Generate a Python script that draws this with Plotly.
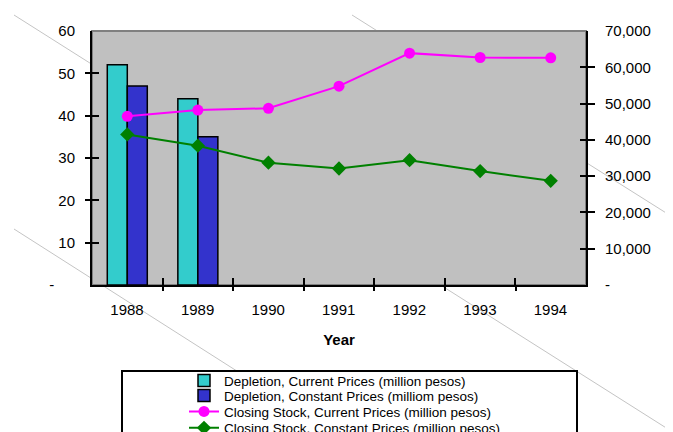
import plotly.graph_objects as go

# ---------------- data ----------------
years = ["1988", "1989", "1990", "1991", "1992", "1993", "1994"]
depletion_current = [52, 44, None, None, None, None, None]      # million pesos
depletion_constant = [47, 35, None, None, None, None, None]     # million pesos
closing_current = [46500, 48200, 48700, 54800, 63900, 62700, 62600]
closing_constant = [41500, 38400, 33700, 32100, 34400, 31400, 28700]

left_tickvals = [0, 10, 20, 30, 40, 50, 60]
left_ticktext = ["-\u00a0\u00a0\u00a0\u00a0\u00a0", "10", "20", "30", "40", "50", "60"]
right_tickvals = [0, 10000, 20000, 30000, 40000, 50000, 60000, 70000]
right_ticktext = ["-", "10,000", "20,000", "30,000", "40,000", "50,000", "60,000", "70,000"]

names = [
    "Depletion, Current Prices (million pesos)",
    "Depletion, Constant Prices (milliom pesos)",
    "Closing Stock, Current Prices (million pesos)",
    "Closing Stock, Constant Prices (million pesos)",
]

# ---------------- layout geometry ----------------
# page pixels of the reference; the page body adds an 8px offset
OFF = 8
W, H = 673 - OFF, 440          # figure size (bottom part falls outside the window, as in the reference)
PL, PR, PT, PB = 92 - OFF, 586 - OFF, 31 - OFF, 285 - OFF


def px_x(x):
    return (x - OFF - PL) / (PR - PL)


def px_y(y):
    return (PB - (y - OFF)) / (PB - PT)


FONT = "Liberation Sans, Arial, sans-serif"
xpos = list(range(len(years)))
boundaries = [i - 0.5 for i in range(len(years) + 1)]

fig = go.Figure()
fig.add_trace(go.Bar(
    x=xpos, y=depletion_current, name=names[0],
    marker=dict(color="#33CCCC", line=dict(color="black", width=1.5)),
    legend="legend",
))
fig.add_trace(go.Bar(
    x=xpos, y=depletion_constant, name=names[1],
    marker=dict(color="#3333CC", line=dict(color="black", width=1.5)),
    legend="legend2",
))
fig.add_trace(go.Scatter(
    x=xpos, y=closing_current, name=names[2], yaxis="y2",
    mode="lines+markers",
    line=dict(color="#FF00FF", width=2),
    marker=dict(symbol="circle", size=11, color="#FF00FF"),
    legend="legend3",
))
fig.add_trace(go.Scatter(
    x=xpos, y=closing_constant, name=names[3], yaxis="y2",
    mode="lines+markers",
    line=dict(color="#008000", width=2),
    marker=dict(symbol="diamond", size=11, color="#008000"),
    legend="legend4",
))

# decorative faint diagonal lines and boxes (reference page pixels)
shapes = []
for (x0, y0, x1, y1) in [(14, 15, 690, 443), (14, 229, 331, 431), (352, 15, 690, 228)]:
    shapes.append(dict(type="line", xref="paper", yref="paper", layer="below",
                       x0=px_x(x0), y0=px_y(y0), x1=px_x(x1), y1=px_y(y1),
                       line=dict(color="#C4C4C4", width=1)))
# plot area
shapes.append(dict(type="rect", xref="paper", yref="paper", layer="below",
                   x0=0, y0=0, x1=1, y1=1, fillcolor="#C0C0C0",
                   line=dict(color="#808080", width=2)))
# legend box
shapes.append(dict(type="rect", xref="paper", yref="paper", layer="below",
                   x0=px_x(122), y0=px_y(460), x1=px_x(577), y1=px_y(371),
                   fillcolor="white", line=dict(color="black", width=2)))

tickfont = dict(family=FONT, size=15, color="black")

leg_common = dict(xanchor="left", yanchor="middle", bgcolor="rgba(0,0,0,0)",
                  borderwidth=0, font=dict(family=FONT, size=13.5, color="black"),
                  xref="container", yref="container", x=(184 - OFF) / W)
rows = [380.7, 395.7, 411.7, 428]

fig.update_layout(
    width=W, height=H,
    margin=dict(l=PL, r=W - PR, t=PT, b=H - PB, pad=0, autoexpand=False),
    paper_bgcolor="white", plot_bgcolor="rgba(0,0,0,0)",
    barmode="group", bargap=0.433, bargroupgap=0,
    showlegend=True,
    shapes=shapes,
    legend=dict(leg_common, y=1 - (rows[0] - OFF) / H),
    legend2=dict(leg_common, y=1 - (rows[1] - OFF) / H),
    legend3=dict(leg_common, y=1 - (rows[2] - OFF) / H),
    legend4=dict(leg_common, y=1 - (rows[3] - OFF) / H),
    xaxis=dict(
        range=[-0.5, len(years) - 0.5], tickmode="array",
        tickvals=boundaries, ticktext=years + [""],
        ticks="inside", ticklen=7, tickwidth=2, tickcolor="black",
        ticklabelshift=round((PR - PL) / len(years) / 2),
        ticklabelstandoff=10,
        minor=dict(tickmode="array", tickvals=[b + 0.001 for b in boundaries],
                   ticks="outside", ticklen=4, tickwidth=2, tickcolor="black",
                   showgrid=False),
        showline=True, linecolor="black", linewidth=2,
        showgrid=False, zeroline=False, tickfont=tickfont,
        title=dict(text="<b>Year</b>", font=dict(family=FONT, size=15, color="black"),
                   standoff=17),
        fixedrange=True,
    ),
    yaxis=dict(
        range=[0, 60], tickmode="array", tickvals=left_tickvals, ticktext=left_ticktext,
        ticks="inside", ticklen=7, tickwidth=2, tickcolor="black",
        minor=dict(tickmode="array", tickvals=[v + 0.001 for v in left_tickvals],
                   ticks="outside", ticklen=5, tickwidth=2, tickcolor="black",
                   showgrid=False),
        ticklabelstandoff=12,
        showline=True, linecolor="black", linewidth=2,
        showgrid=False, zeroline=False, tickfont=tickfont, fixedrange=True,
    ),
    yaxis2=dict(
        range=[0, 70000], overlaying="y", side="right", anchor="x",
        tickmode="array", tickvals=right_tickvals, ticktext=right_ticktext,
        ticks="inside", ticklen=6, tickwidth=2, tickcolor="black",
        minor=dict(tickmode="array", tickvals=[v + 1 for v in right_tickvals],
                   ticks="outside", ticklen=7, tickwidth=2, tickcolor="black",
                   showgrid=False),
        ticklabelstandoff=14,
        showline=True, linecolor="black", linewidth=2,
        showgrid=False, zeroline=False, tickfont=tickfont, fixedrange=True,
    ),
)

fig.write_html("out.html")
